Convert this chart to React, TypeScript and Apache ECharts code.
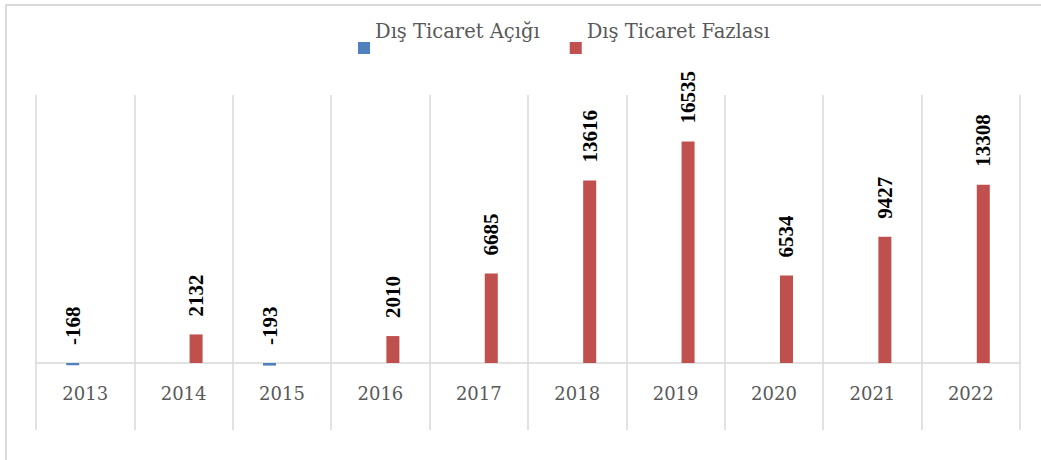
import React, { useEffect, useRef } from "react";
import * as echarts from "echarts";

const years = ["2013", "2014", "2015", "2016", "2017", "2018", "2019", "2020", "2021", "2022"];
const deficitName = "Dış Ticaret Açığı";
const surplusName = "Dış Ticaret Fazlası";
const deficit: (number | string)[] = [-168, "-", -193, "-", "-", "-", "-", "-", "-", "-"];
const surplus: (number | string)[] = ["-", 2132, "-", 2010, 6685, 13616, 16535, 6534, 9427, 13308];

const legendIcon = "path://M0,0 M0,34 L12,34 L12,46 L0,46 Z";

export default function App() {
  const ref = useRef<HTMLDivElement>(null);
  useEffect(() => {
    if (!ref.current) return;
    const chart = echarts.init(ref.current, undefined, { renderer: "svg" });
    const labelStyle = {
      show: true,
      position: "top" as const,
      distance: 18,
      rotate: 90,
      align: "left" as const,
      verticalAlign: "middle" as const,
      fontFamily: "Liberation Serif",
      fontWeight: "bold" as const,
      fontSize: 21,
      color: "#000",
    };
    chart.setOption({
      animation: false,
      backgroundColor: "#fff",
      graphic: [
        {
          type: "rect",
          shape: { x: 6, y: 5, width: 1100, height: 600 },
          style: { fill: "none", stroke: "#d9d9d9", lineWidth: 2 },
          silent: true,
        },
      ],
      legend: {
        top: 8,
        left: 358,
        padding: 0,
        itemWidth: 12,
        itemHeight: 46,
        itemGap: 30,
        icon: legendIcon,
        textStyle: {
          fontFamily: "DejaVu Serif",
          fontSize: 19.5,
          color: "#595959",
        },
        data: [
          { name: deficitName, icon: legendIcon },
          { name: surplusName, icon: legendIcon },
        ],
      },
      grid: { left: 36, right: 21, top: 95, bottom: 97 },
      xAxis: {
        type: "category",
        data: years,
        boundaryGap: true,
        axisLine: { show: true, onZero: false, lineStyle: { color: "#d9d9d9", width: 1.5 } },
        axisTick: {
          show: true,
          interval: 0,
          length: 67,
          lineStyle: { color: "#d9d9d9", width: 1.5 },
        },
        splitLine: { show: true, lineStyle: { color: "#d9d9d9", width: 1.5 } },
        axisLabel: {
          fontFamily: "DejaVu Serif",
          fontSize: 18,
          color: "#595959",
          margin: 21,
        },
      },
      yAxis: {
        type: "value",
        min: 0,
        max: 20000,
        show: false,
        splitLine: { show: false },
      },
      series: [
        {
          name: deficitName,
          type: "bar",
          data: deficit,
          barWidth: 13,
          barGap: "92%",
          clip: false,
          itemStyle: { color: "#4f81bd" },
          label: labelStyle,
        },
        {
          name: surplusName,
          type: "bar",
          data: surplus,
          barWidth: 13,
          barGap: "92%",
          clip: false,
          itemStyle: { color: "#c0504d" },
          label: labelStyle,
        },
      ],
    });
    return () => chart.dispose();
  }, []);
  return (
    <div
      ref={ref}
      style={{ position: "fixed", left: 0, top: 0, width: 1041, height: 460 }}
    />
  );
}
